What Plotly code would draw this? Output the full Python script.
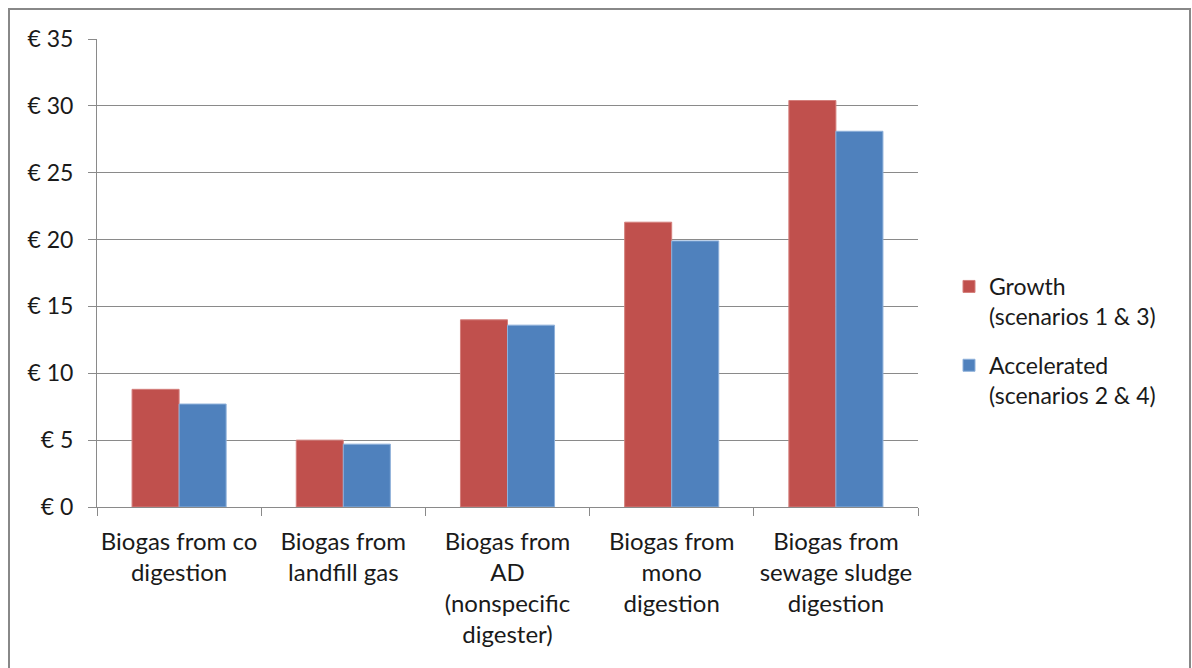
import plotly.graph_objects as go

categories = [
    "Biogas from co<br>digestion",
    "Biogas from<br>landfill gas",
    "Biogas from<br>AD<br>(nonspecific<br>digester)",
    "Biogas from<br>mono<br>digestion",
    "Biogas from<br>sewage sludge<br>digestion",
]
growth = [8.8, 5.0, 14.0, 21.3, 30.4]
accelerated = [7.7, 4.7, 13.6, 19.9, 28.1]
y_ticks = [0, 5, 10, 15, 20, 25, 30, 35]
y_tick_labels = ["€ 0", "€ 5", "€ 10", "€ 15", "€ 20", "€ 25", "€ 30", "€ 35"]

FONT = "Lato"
GRID = "#8a8a8a"

fig = go.Figure()
fig.add_trace(go.Bar(
    x=categories, y=growth, name="Growth<br>(scenarios 1 & 3)", legendgroup="g",
    marker=dict(color="#C0504D", line=dict(color="#D47F7C", width=1)),
))
fig.add_trace(go.Bar(
    x=categories, y=accelerated, name="Accelerated<br>(scenarios 2 & 4)", legendgroup="a",
    marker=dict(color="#4F81BD", line=dict(color="#8EB0DA", width=1)),
))

# plot-area geometry used to place the outer frame in paper units
L, R, T, B, W, H = 97, 918, 39, 507, 1192, 668
pw, ph = R - L, B - T

fig.update_layout(
    width=W, height=H,
    margin=dict(l=L, r=W - R, t=T, b=H - B, autoexpand=False),
    paper_bgcolor="white", plot_bgcolor="white",
    barmode="group", bargap=0.427, bargroupgap=0,
    font=dict(family=FONT, size=22, color="#1a1a1a"),
    legend=dict(
        x=(949 - L) / pw, y=(507 - 341) / ph, xanchor="left", yanchor="middle",
        font=dict(family=FONT, size=23, color="#1a1a1a"),
        valign="top", tracegroupgap=16, itemwidth=30,
    ),
    xaxis=dict(
        type="category", showline=True, linecolor=GRID, linewidth=1,
        ticks="outside", tickson="boundaries", ticklen=8, tickcolor=GRID,
        showgrid=False, tickfont=dict(family=FONT, size=24),
        tickangle=0, automargin=False, ticklabelstandoff=13,
    ),
    yaxis=dict(
        range=[0, 35], tickvals=y_ticks, ticktext=y_tick_labels,
        showline=True, linecolor=GRID, linewidth=1,
        ticks="outside", ticklen=8, tickcolor=GRID,
        showgrid=True, gridcolor=GRID, gridwidth=1, zeroline=False,
        tickfont=dict(family=FONT, size=23), ticklabelstandoff=10,
        automargin=False,
    ),
    shapes=[dict(
        type="rect", xref="paper", yref="paper",
        x0=(9 - L) / pw, x1=(1190 - L) / pw,
        y0=(B - 680) / ph, y1=(B - 9) / ph,
        line=dict(color="#888888", width=2), layer="above",
    )],
)

fig.write_html("out.html")
